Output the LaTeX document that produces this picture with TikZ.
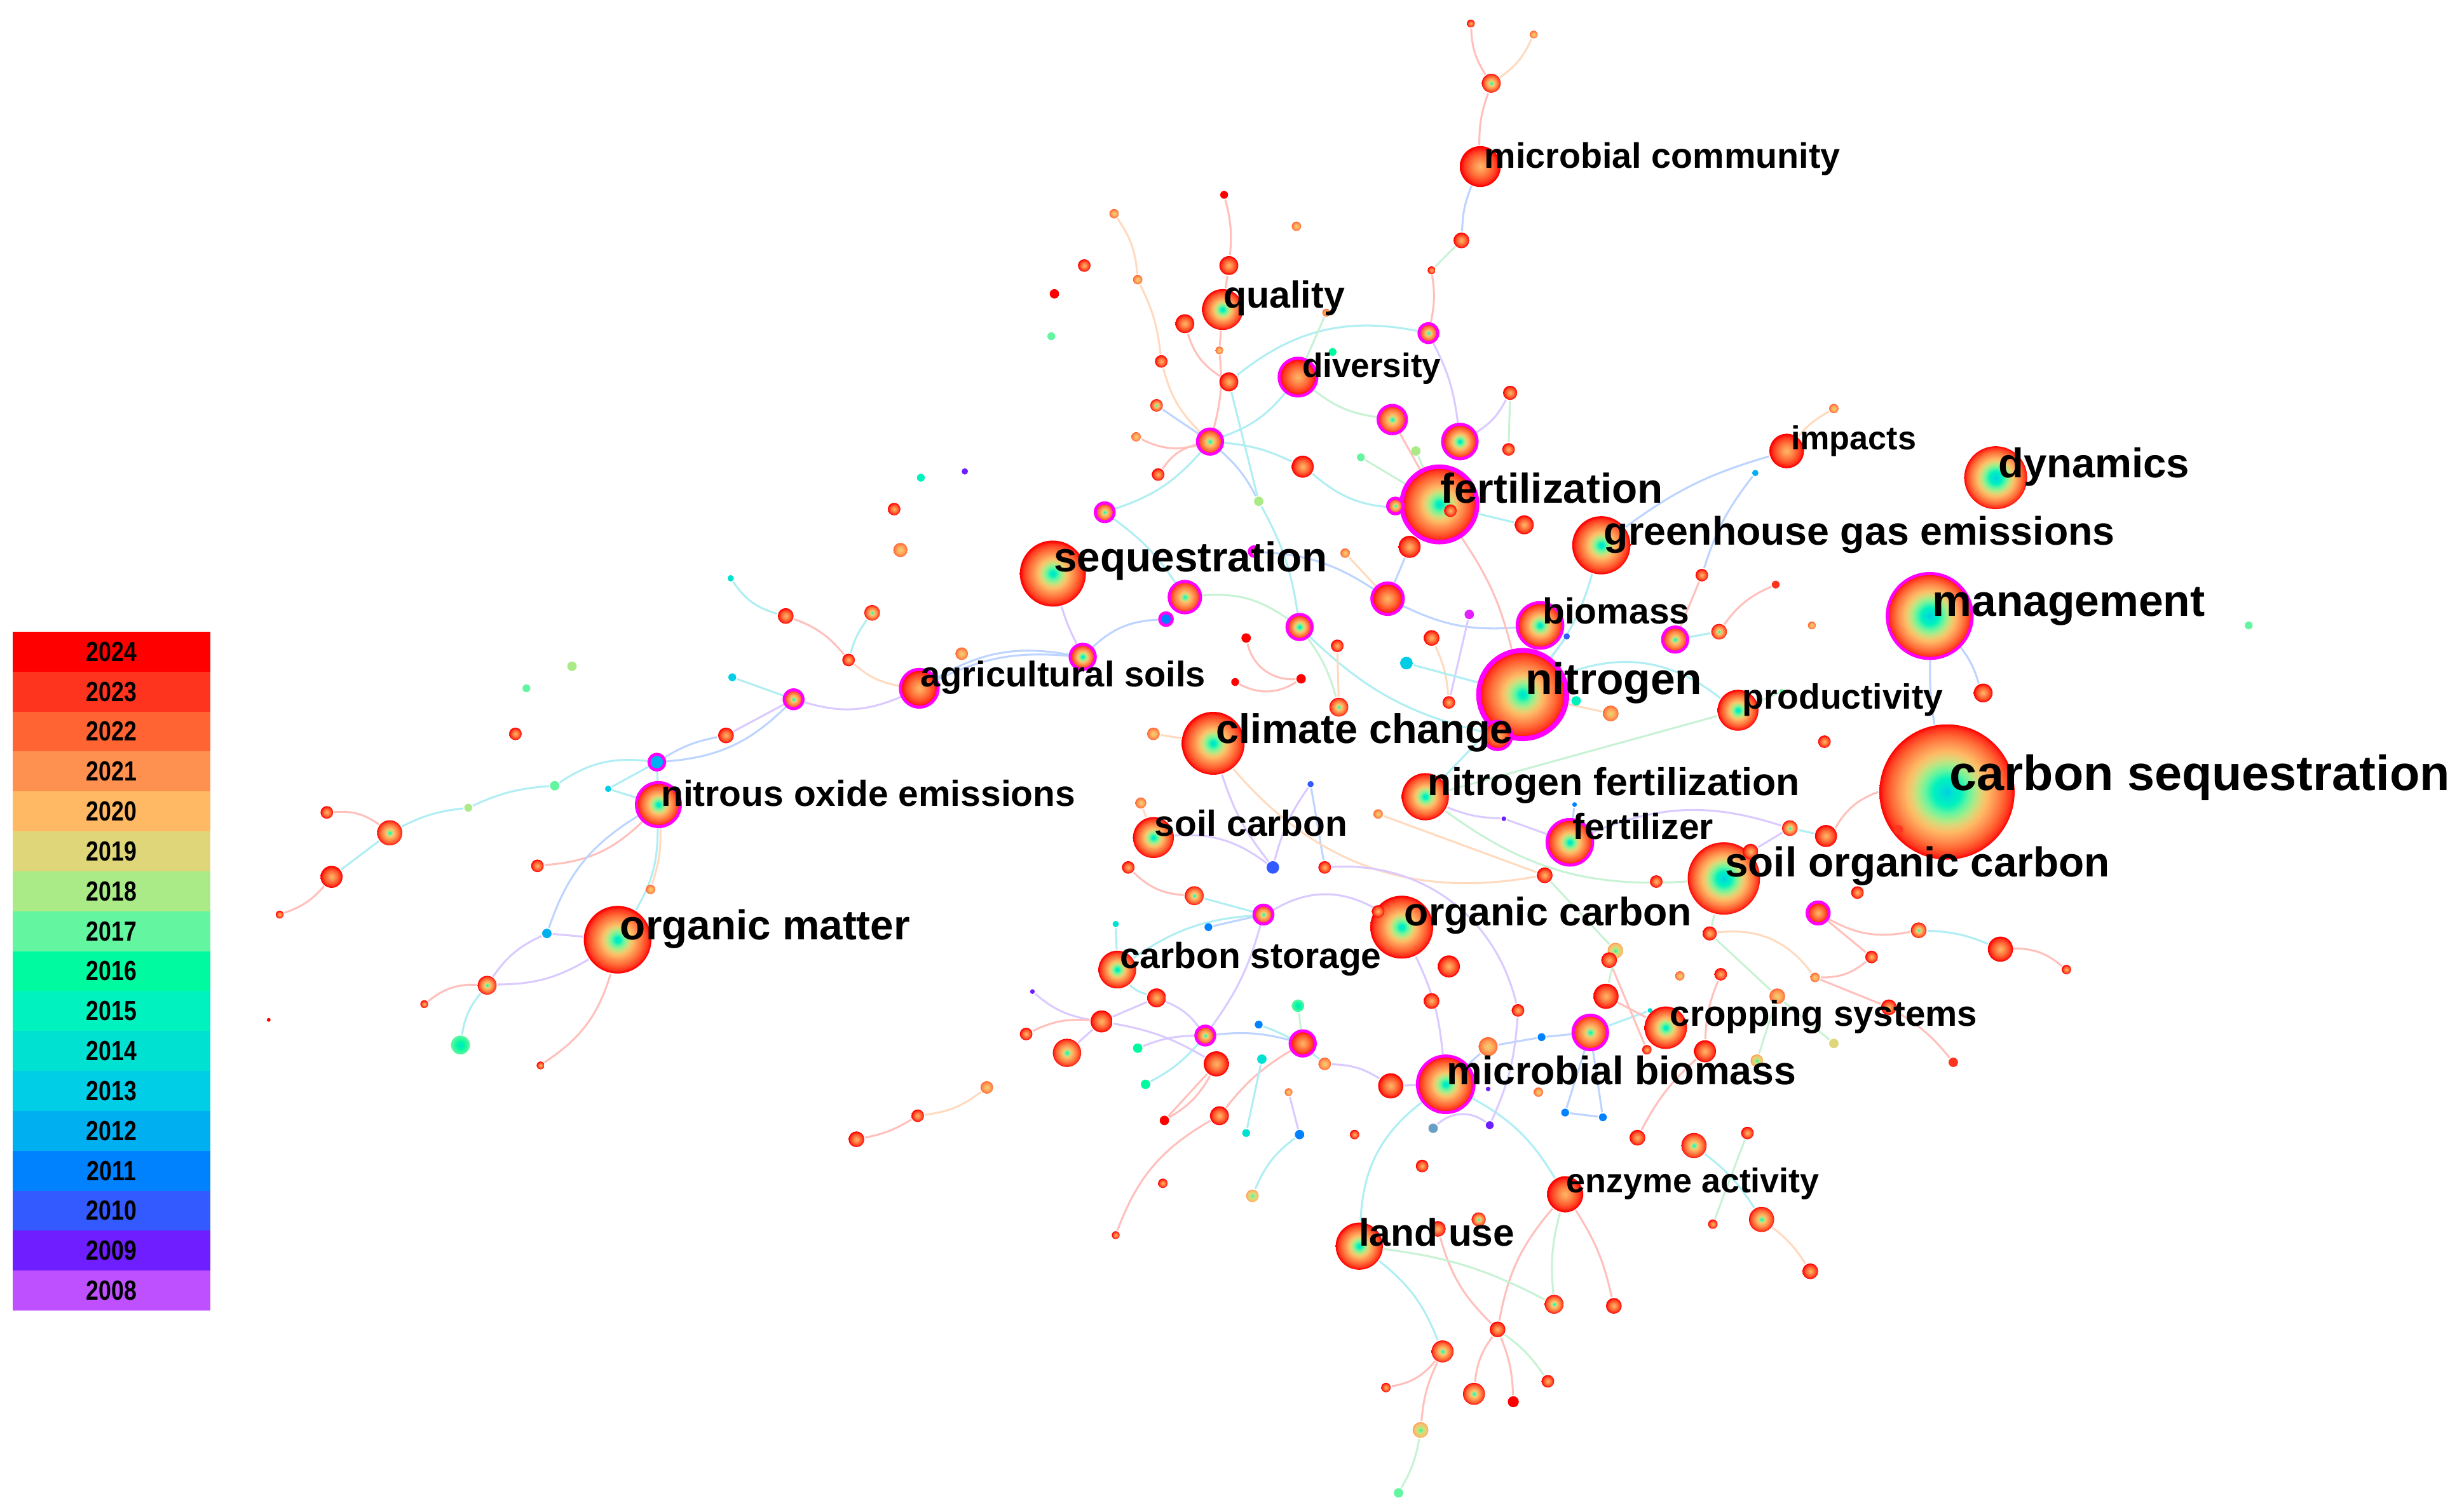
\documentclass[tikz,border=0pt]{standalone}
\usepackage{fontspec}
\setmainfont{Liberation Sans}
\usetikzlibrary{backgrounds}
\definecolor{y2024}{RGB}{255,0,0}
\definecolor{y2023}{RGB}{255,52,30}
\definecolor{y2022}{RGB}{255,100,50}
\definecolor{y2021}{RGB}{255,145,80}
\definecolor{y2020}{RGB}{255,185,100}
\definecolor{y2019}{RGB}{222,214,120}
\definecolor{y2018}{RGB}{170,235,135}
\definecolor{y2017}{RGB}{100,245,160}
\definecolor{y2016}{RGB}{0,250,160}
\definecolor{y2015}{RGB}{0,242,190}
\definecolor{y2014}{RGB}{0,225,210}
\definecolor{y2013}{RGB}{0,205,230}
\definecolor{y2012}{RGB}{0,175,240}
\definecolor{y2011}{RGB}{0,130,255}
\definecolor{y2010}{RGB}{50,90,255}
\definecolor{y2009}{RGB}{110,30,255}
\definecolor{y2008}{RGB}{190,80,255}
\definecolor{rimc}{RGB}{255,0,255}
\definecolor{ecyan}{RGB}{175,238,243}
\definecolor{epink}{RGB}{255,192,188}
\definecolor{elav}{RGB}{218,202,255}
\definecolor{eblue}{RGB}{188,212,255}
\definecolor{egreen}{RGB}{200,242,212}
\definecolor{eorange}{RGB}{255,218,190}
\pgfdeclareradialshading{treeL}{\pgfpoint{0bp}{0bp}}{color(0bp)=(y2013); color(2bp)=(y2014); color(5bp)=(y2015); color(8bp)=(y2017); color(10.5bp)=(y2018); color(12.5bp)=(y2019); color(15bp)=(y2020); color(18bp)=(y2021); color(21bp)=(y2022); color(23.5bp)=(y2023); color(25bp)=(y2024); color(50bp)=(y2024)}
\pgfdeclareradialshading{treeA}{\pgfpoint{0bp}{0bp}}{color(0bp)=(y2014); color(2bp)=(y2015); color(4.5bp)=(y2017); color(7bp)=(y2018); color(9bp)=(y2019); color(11.5bp)=(y2020); color(15bp)=(y2021); color(19bp)=(y2022); color(22.5bp)=(y2023); color(24.5bp)=(y2024); color(50bp)=(y2024)}
\pgfdeclareradialshading{treeB}{\pgfpoint{0bp}{0bp}}{color(0bp)=(y2015); color(3bp)=(y2017); color(6bp)=(y2019); color(9bp)=(y2020); color(14bp)=(y2021); color(19bp)=(y2022); color(23bp)=(y2023); color(25bp)=(y2024); color(50bp)=(y2024)}
\pgfdeclareradialshading{treeC}{\pgfpoint{0bp}{0bp}}{color(0bp)=(y2020); color(7bp)=(y2021); color(14bp)=(y2022); color(20bp)=(y2023); color(24bp)=(y2024); color(50bp)=(y2024)}
\pgfdeclareradialshading{treeD}{\pgfpoint{0bp}{0bp}}{color(0bp)=(y2019); color(8bp)=(y2020); color(18bp)=(y2021); color(25bp)=(y2022); color(50bp)=(y2022)}
\pgfdeclareradialshading{treeY}{\pgfpoint{0bp}{0bp}}{color(0bp)=(y2016); color(6bp)=(y2018); color(14bp)=(y2019); color(22bp)=(y2020); color(25bp)=(y2021); color(50bp)=(y2021)}
\pgfdeclareradialshading{treeG}{\pgfpoint{0bp}{0bp}}{color(0bp)=(y2014); color(10bp)=(y2016); color(25bp)=(y2017); color(50bp)=(y2017)}
\tikzset{
  tl/.style={circle, inner sep=0pt, minimum size=#1*0.02cm, shade, shading=treeL},
  ta/.style={circle, inner sep=0pt, minimum size=#1*0.02cm, shade, shading=treeA},
  tb/.style={circle, inner sep=0pt, minimum size=#1*0.02cm, shade, shading=treeB},
  tc/.style={circle, inner sep=0pt, minimum size=#1*0.02cm, shade, shading=treeC},
  td/.style={circle, inner sep=0pt, minimum size=#1*0.02cm, shade, shading=treeD},
  ty/.style={circle, inner sep=0pt, minimum size=#1*0.02cm, shade, shading=treeY},
  tg/.style={circle, inner sep=0pt, minimum size=#1*0.02cm, shade, shading=treeG},
  sdot/.style={circle, inner sep=0pt, minimum size=#1*0.02cm},
  rim/.style={draw=rimc, line width=0.55pt},
  lbl/.style={anchor=base west, inner sep=0pt, text=black, font=\fontsize{#1pt}{#1pt}\selectfont\bfseries},
  legbox/.style={rectangle, inner sep=0pt, minimum width=1.26cm, minimum height=0.2541cm, font=\fontsize{5pt}{5pt}\selectfont\bfseries},
  ed/.style={line width=0.35pt},
  ec/.style={ed, draw=ecyan},
  ep/.style={ed, draw=epink},
  el/.style={ed, draw=elav},
  eb/.style={ed, draw=eblue},
  eg/.style={ed, draw=egreen},
  eo/.style={ed, draw=eorange}
}
\begin{document}
\begin{tikzpicture}[x=0.01cm,y=-0.01cm]
\useasboundingbox (0,0) rectangle (1568,962);
% legend
\foreach \yr [count=\i from 0] in {2024,2023,...,2008}{
  \node[legbox, fill=y\yr] (leg\yr) at (71,{402+25.41*(\i+0.5)}) {\scalebox{0.82}[1]{\yr}};
}
% main keyword nodes
\node[tl=43] (cs) at (1239,504) {};
\node[tl=27, rim] (mg) at (1228,392) {};
\node[ta=28, rim, line width=0.9pt] (ni) at (969,442) {};
\node[ta=24, rim, line width=0.8pt] (fe) at (916,321) {};
\node[ta=21] (se) at (670,365) {};
\node[tl=20] (dy) at (1270,304) {};
\node[ta=18.5] (gh) at (1019,347) {};
\node[ta=21.5] (om) at (393,598) {};
\node[ta=20] (cc) at (772,473) {};
\node[tl=23] (soc) at (1097,559) {};
\node[ta=20] (oc) at (892,590) {};
\node[ta=18, rim] (mb) at (920,690) {};
\node[tc=13] (mc) at (942,106) {};
\node[ta=13] (qu) at (778,197) {};
\node[tc=12, rim] (dv) at (826,240) {};
\node[tc=11] (im) at (1137,287) {};
\node[ta=14.5, rim] (bi) at (980,398) {};
\node[ta=13] (pr) at (1106,452) {};
\node[tc=12, rim] (as) at (585,438) {};
\node[ta=14, rim] (no) at (419,512) {};
\node[ta=15] (nf) at (907,507) {};
\node[ta=13] (sc) at (734,533) {};
\node[ta=14.5, rim] (fz) at (999,536) {};
\node[ta=12] (cst) at (711,617) {};
\node[ta=13.5] (cr) at (1060,654) {};
\node[tc=11.5] (ea) at (996,760) {};
\node[ta=15] (lu) at (865,793) {};
% small nodes: top
\node[tc=2.5] (n1) at (936,15) {};
\node[td=2.5] (n2) at (976,22) {};
\node[tb=6] (n3) at (949,53) {};
\node[tc=5] (n4) at (930,153) {};
\node[tc=2.5] (n5) at (911,172) {};
\node[tb=6, rim] (n6) at (909,212) {};
\node[sdot=2.5, fill=y2024] (n7) at (779,124) {};
\node[td=3] (n8) at (709,136) {};
\node[td=3] (n9) at (825,144) {};
\node[tc=4] (n10) at (690,169) {};
\node[tc=6] (n11) at (782,169) {};
\node[sdot=3, fill=y2024] (n12) at (671,187) {};
\node[td=3] (n13) at (724,178) {};
\node[tc=6] (n14) at (754,206) {};
\node[sdot=2.5, fill=y2017] (n15) at (669,214) {};
\node[td=2.5] (n16) at (844,199) {};
\node[td=2.5] (n17) at (776,223) {};
\node[tc=4] (n18) at (739,230) {};
\node[tc=6] (n19) at (782,243) {};
\node[sdot=2.5, fill=y2016] (n20) at (848,224) {};
\node[tb=4] (n21) at (736,258) {};
\node[tc=4.5] (n22) at (961,250) {};
\node[tb=9, rim] (n23) at (886,267) {};
\node[tb=8, rim] (n24) at (770,281) {};
\node[td=3] (n25) at (723,278) {};
\node[ta=11, rim] (n26) at (929,281) {};
\node[tc=4] (n27) at (960,286) {};
\node[sdot=2.5, fill=y2017] (n28) at (866,291) {};
\node[sdot=3, fill=y2018] (n29) at (901,287) {};
\node[tc=7] (n30) at (829,297) {};
\node[tc=4] (n31) at (737,302) {};
\node[sdot=3, fill=y2018] (n32) at (801,319) {};
\node[tb=6, rim] (n33) at (703,326) {};
\node[tb=5, rim] (n34) at (888,322) {};
\node[tc=4] (n35) at (923,325) {};
\node[tc=6] (n36) at (970,334) {};
\node[tc=7] (n37) at (897,348) {};
\node[td=3] (n38) at (856,352) {};
\node[tb=3, rim] (n39) at (798,351) {};
\node[tb=10, rim] (n40) at (754,380) {};
\node[tc=10, rim] (n41) at (883,381) {};
\node[sdot=4, fill=y2011, rim] (n42) at (742,394) {};
\node[ta=8, rim] (n43) at (827,399) {};
\node[sdot=3, fill=rimc!60!y2008] (n44) at (935,391) {};
\node[sdot=2, fill=y2010] (n45) at (997,405) {};
\node[tc=5] (n46) at (911,406) {};
\node[sdot=3, fill=y2024] (n47) at (793,406) {};
\node[ta=8, rim] (n48) at (689,418) {};
\node[tc=4] (n49) at (851,411) {};
\node[sdot=4, fill=y2013] (n50) at (895,422) {};
\node[sdot=3, fill=y2024] (n51) at (828,432) {};
\node[sdot=2.5, fill=y2024] (n52) at (786,434) {};
\node[tc=4] (n53) at (922,447) {};
\node[tb=6] (n54) at (852,450) {};
\node[td=5] (n55) at (1025,454) {};
\node[tc=9, rim] (n56) at (953,468) {};
\node[sdot=3, fill=y2015] (n57) at (1003,446) {};
\node[td=4] (n58) at (734,467) {};
\node[sdot=2, fill=y2010] (n59) at (834,499) {};
\node[td=3.5] (n60) at (726,511) {};
\node[td=3] (n61) at (877,518) {};
\node[sdot=1.5, fill=y2009] (n62) at (957,521) {};
\node[sdot=1.5, fill=y2011] (n63) at (1002,512) {};
\node[tc=4] (n64) at (718,552) {};
\node[sdot=4, fill=y2010] (n65) at (810,552) {};
\node[tc=4] (n66) at (843,552) {};
\node[tc=5] (n67) at (983,557) {};
\node[tc=4] (n68) at (1054,561) {};
\node[tb=6] (n69) at (760,570) {};
\node[tb=6, rim] (n70) at (804,582) {};
\node[tc=4] (n71) at (877,580) {};
% right top
\node[td=3] (n72) at (1167,260) {};
\node[sdot=2, fill=y2012] (n73) at (1117,301) {};
\node[tc=4] (n74) at (1083,366) {};
\node[sdot=2.5, fill=y2023] (n75) at (1130,372) {};
\node[tb=5] (n76) at (1094,402) {};
\node[tb=8, rim] (n77) at (1066,407) {};
\node[td=2.5] (n78) at (1153,398) {};
\node[sdot=2.5, fill=y2017] (n79) at (1431,398) {};
\node[tc=6] (n80) at (1262,441) {};
\node[sdot=1.5, fill=y2017] (n81) at (1134,440) {};
\node[tc=4] (n82) at (1161,472) {};
% left
\node[sdot=2.5, fill=y2015] (n83) at (586,304) {};
\node[sdot=2, fill=y2009] (n84) at (614,300) {};
\node[tc=4] (n85) at (569,324) {};
\node[td=4.5] (n86) at (573,350) {};
\node[sdot=2, fill=y2014] (n87) at (465,368) {};
\node[tc=5] (n88) at (500,392) {};
\node[tb=5] (n89) at (555,390) {};
\node[tc=4] (n90) at (540,420) {};
\node[td=4] (n91) at (612,416) {};
\node[sdot=2.5, fill=y2013] (n92) at (466,431) {};
\node[tb=6, rim] (n93) at (505,445) {};
\node[sdot=3, fill=y2018] (n94) at (364,424) {};
\node[sdot=2.5, fill=y2017] (n95) at (335,438) {};
\node[tc=4] (n96) at (328,467) {};
\node[tc=5] (n97) at (462,468) {};
\node[sdot=5, fill=y2012, rim] (n98) at (418,485) {};
\node[sdot=3, fill=y2017] (n99) at (353,500) {};
\node[sdot=2, fill=y2013] (n100) at (387,502) {};
\node[sdot=2.5, fill=y2018] (n101) at (298,514) {};
\node[tc=4] (n102) at (208,517) {};
\node[tb=8] (n103) at (248,530) {};
\node[tc=7] (n104) at (211,558) {};
\node[tc=4] (n105) at (342,551) {};
\node[tc=2.5] (n106) at (178,582) {};
\node[td=3] (n107) at (414,566) {};
\node[sdot=3, fill=y2012] (n108) at (348,594) {};
\node[tb=6] (n109) at (310,627) {};
\node[tc=2.5] (n110) at (270,639) {};
\node[sdot=1.2, fill=y2024] (n111) at (171,649) {};
\node[tg=6] (n112) at (293,665) {};
\node[tc=2.5] (n113) at (344,678) {};
\node[sdot=1.5, fill=y2009] (n114) at (657,631) {};
\node[tc=4] (n115) at (653,658) {};
\node[td=4] (n116) at (628,692) {};
\node[tc=4] (n117) at (584,710) {};
\node[tc=5] (n118) at (545,725) {};
% bottom centre
\node[sdot=2, fill=y2014] (n119) at (710,588) {};
\node[sdot=2.5, fill=y2011] (n120) at (769,590) {};
\node[tc=4.5] (n121) at (1088,594) {};
\node[ty=5] (n122) at (1028,605) {};
\node[tc=5] (n123) at (1024,611) {};
\node[tc=7] (n124) at (922,615) {};
\node[td=3] (n125) at (1069,621) {};
\node[tc=4] (n126) at (1095,620) {};
\node[tc=6] (n127) at (736,635) {};
\node[tc=5] (n128) at (911,637) {};
\node[tc=8] (n129) at (1022,634) {};
\node[tg=4] (n130) at (826,640) {};
\node[tc=4] (n131) at (966,643) {};
\node[sdot=1.5, fill=y2014] (n132) at (1050,643) {};
\node[sdot=2.5, fill=y2011] (n133) at (801,652) {};
\node[tb=6, rim] (n134) at (767,659) {};
\node[tc=8, rim] (n135) at (829,664) {};
\node[tc=7] (n136) at (701,650) {};
\node[tb=9] (n137) at (679,670) {};
\node[tb=11, rim] (n138) at (1012,657) {};
\node[sdot=2.5, fill=y2011] (n139) at (981,660) {};
\node[td=6] (n140) at (947,666) {};
\node[tc=3] (n141) at (1048,668) {};
\node[tc=7] (n142) at (1085,669) {};
\node[sdot=3, fill=y2016] (n143) at (724,667) {};
\node[sdot=3, fill=y2014] (n144) at (803,674) {};
\node[tc=8] (n145) at (774,677) {};
\node[td=4] (n146) at (843,677) {};
\node[tc=8] (n147) at (885,691) {};
\node[td=3] (n148) at (979,695) {};
\node[sdot=1.5, fill=y2009] (n149) at (947,693) {};
\node[td=2.5] (n150) at (820,695) {};
\node[sdot=3, fill=y2016] (n151) at (729,690) {};
\node[sdot=2.5, fill=y2011] (n152) at (996,708) {};
\node[sdot=2.5, fill=y2011] (n153) at (1020,711) {};
\node[tc=6] (n154) at (776,710) {};
\node[sdot=3, fill=y2024] (n155) at (741,713) {};
\node[sdot=3, fill=y2017!60!y2009] (n156) at (912,718) {};
\node[sdot=2.5, fill=y2009] (n157) at (948,716) {};
\node[sdot=2.5, fill=y2014] (n158) at (793,721) {};
\node[sdot=3, fill=y2011] (n159) at (827,722) {};
\node[tc=3] (n160) at (862,722) {};
\node[tc=5] (n161) at (1042,724) {};
\node[tb=8] (n162) at (1078,729) {};
\node[tc=4] (n163) at (1112,721) {};
\node[tc=4] (n164) at (905,742) {};
\node[ty=4] (n165) at (797,761) {};
\node[tc=3] (n166) at (740,753) {};
\node[tb=4.5] (n167) at (941,776) {};
\node[tc=3] (n168) at (1090,779) {};
\node[tb=8] (n169) at (1121,776) {};
\node[tc=2.5] (n170) at (710,786) {};
\node[tc=5] (n171) at (915,782) {};
\node[tc=5] (n172) at (1152,809) {};
\node[tb=6] (n173) at (989,830) {};
\node[tc=5] (n174) at (1027,831) {};
\node[tc=5] (n175) at (953,846) {};
\node[tb=7] (n176) at (918,860) {};
\node[tc=3] (n177) at (882,883) {};
\node[tb=7] (n178) at (938,887) {};
\node[sdot=3.5, fill=y2024] (n179) at (963,892) {};
\node[tc=4] (n180) at (985,879) {};
\node[ty=5] (n181) at (904,910) {};
\node[sdot=3, fill=y2017] (n182) at (890,950) {};
% right bottom
\node[tb=5] (n183) at (1139,527) {};
\node[tc=7] (n184) at (1162,532) {};
\node[tc=5] (n185) at (1114,542) {};
\node[sdot=3, fill=y2023] (n186) at (1208,528) {};
\node[tc=4] (n187) at (1182,568) {};
\node[tc=7, rim] (n188) at (1157,581) {};
\node[tb=5] (n189) at (1221,592) {};
\node[tc=8] (n190) at (1273,604) {};
\node[tc=3] (n191) at (1315,617) {};
\node[tc=4] (n192) at (1191,609) {};
\node[td=3] (n193) at (1155,622) {};
\node[td=5] (n194) at (1131,634) {};
\node[tc=5] (n195) at (1202,641) {};
\node[sdot=3, fill=y2019] (n196) at (1167,664) {};
\node[ty=4] (n197) at (1118,675) {};
\node[sdot=3, fill=y2023] (n198) at (1243,676) {};
% connectors
\begin{scope}[on background layer]
\fill[white] (0,0) rectangle (1568,962);
\draw[ep] (n1) to[bend right=15] (n3);
\draw[eo] (n2) to[bend left=15] (n3);
\draw[ep] (n3) to[bend right=10] (mc);
\draw[eb] (mc) to[bend right=10] (n4);
\draw[eg] (n4) to (n5);
\draw[ep] (n5) to[bend left=10] (n6);
\draw[el] (n6) to[bend left=10] (n26);
\draw[ec] (n19) to[bend left=25] (n6);
\draw[ep] (n7) to[bend left=10] (n11);
\draw[ep] (n11) to (qu);
\draw[ep] (qu) to (n17);
\draw[ep] (n17) to[bend left=10] (n24);
\draw[eo] (n8) to[bend left=15] (n13);
\draw[eo] (n13) to[bend left=10] (n18);
\draw[eo] (n18) to[bend right=15] (n24);
\draw[ep] (n14) to[bend right=20] (n19);
\draw[eb] (n21) to (n24);
\draw[ep] (n25) to[bend right=20] (n24);
\draw[ep] (n31) to[bend left=20] (n24);
\draw[ec] (n24) to[bend left=15] (n33);
\draw[ec] (n24) to[bend left=10] (n30);
\draw[ec] (n24) to[bend right=15] (dv);
\draw[eb] (n24) to[bend left=10] (n32);
\draw[ec] (n30) to[bend right=20] (fe);
\draw[eg] (dv) to[bend right=15] (n23);
\draw[eg] (n16) to (dv);
\draw[ep] (n23) to (fe);
\draw[el] (n26) to[bend right=15] (n22);
\draw[eg] (n22) to (n27);
\draw[eg] (n28) to (fe);
\draw[eg] (n29) to (fe);
\draw[ec] (n19) to (n32);
\draw[ec] (n33) to[bend left=10] (n40);
\draw[ec] (n32) to[bend left=10] (n43);
\draw[eg] (n40) to[bend left=20] (n43);
\draw[el] (se) to[bend right=5] (n48);
\draw[eb] (n42) to[bend right=20] (n48);
\draw[eb] (n48) to[bend right=20] (as);
\draw[eb] (n39) to[bend left=15] (n41);
\draw[eo] (n41) to (n38);
\draw[eb] (n41) to (n37);
\draw[eb] (n41) to[bend right=15] (bi);
\draw[eg] (n43) to[bend left=10] (n54);
\draw[ec] (n43) to[bend right=15] (n56);
\draw[eo] (n49) to (n54);
\draw[ep] (n47) to[bend right=40] (n51);
\draw[ep] (n52) to[bend right=30] (n51);
\draw[eo] (n46) to[bend left=10] (n53);
\draw[ep] (fe) to[bend left=10] (ni);
\draw[el] (n44) to (n53);
\draw[eb] (bi) to (ni);
\draw[eb] (n45) to (ni);
\draw[ec] (n50) to (ni);
\draw[ec] (gh) to[bend left=10] (ni);
\draw[ep] (n37) to (fe);
\draw[ec] (n36) to (fe);
\draw[ec] (n34) to (fe);
\draw[eo] (cc) to (n58);
\draw[el] (cc) to[bend right=10] (n65);
\draw[eb] (n59) to (n66);
\draw[el] (n59) to[bend right=10] (n65);
\draw[eo] (cc) to[bend right=30] (n67);
\draw[el] (nf) to[bend right=10] (n62);
\draw[el] (n62) to (fz);
\draw[eb] (n63) to (fz);
\draw[ec] (ni) to (nf);
\draw[ec] (ni) to (n57);
\draw[eo] (ni) to (n55);
\draw[eo] (n60) to (sc);
\draw[el] (sc) to[bend left=20] (n65);
\draw[el] (n66) to[bend left=40] (n131);
\draw[ep] (n64) to[bend right=20] (n69);
\draw[ec] (n69) to (n70);
\draw[el] (n70) to[bend left=30] (oc);
\draw[ec] (n70) to[bend right=15] (cst);
\draw[ec] (n119) to (cst);
\draw[eb] (n120) to (n70);
\draw[el] (n70) to[bend left=10] (n134);
\draw[eg] (n67) to (n122);
\draw[eo] (n61) to (n67);
% right top
\draw[eb] (gh) to[bend left=10] (im);
\draw[eb] (n73) to[bend right=10] (n74);
\draw[ep] (n74) to (n77);
\draw[eo] (im) to[bend left=10] (n72);
\draw[ep] (n75) to[bend right=15] (n76);
\draw[ec] (n76) to (n77);
\draw[eb] (mg) to[bend right=5] (cs);
\draw[eb] (mg) to[bend left=10] (n80);
\draw[ec] (pr) to[bend right=30] (ni);
\draw[eg] (pr) to (nf);
\draw[eg] (n81) to (pr);
% right bottom
\draw[ep] (cs) to[bend right=20] (n184);
\draw[ec] (n184) to (n183);
\draw[el] (fz) to[bend left=20] (n183);
\draw[el] (n183) to (n185);
\draw[eg] (soc) to[bend left=20] (nf);
\draw[ep] (n188) to[bend right=20] (n189);
\draw[ec] (n189) to[bend left=10] (n190);
\draw[ep] (n190) to[bend left=20] (n191);
\draw[ep] (n188) to (n192);
\draw[ep] (n192) to[bend left=20] (n193);
\draw[eo] (n121) to[bend left=30] (n193);
\draw[ep] (n193) to (n195);
\draw[ep] (n195) to[bend left=10] (n198);
\draw[eg] (soc) to (n121);
\draw[ep] (n126) to[bend right=10] (n142);
\draw[eg] (n121) to (n194);
\draw[eg] (n194) to (n197);
\draw[eg] (n196) to (n194);
% left
\draw[ec] (n87) to[bend right=20] (n88);
\draw[ep] (n88) to[bend left=15] (n90);
\draw[ec] (n89) to[bend right=10] (n90);
\draw[eo] (n90) to[bend right=15] (as);
\draw[el] (as) to[bend left=20] (n93);
\draw[ec] (n93) to (n92);
\draw[el] (n93) to (n97);
\draw[eb] (n93) to[bend left=20] (n98);
\draw[eb] (n97) to[bend right=10] (n98);
\draw[ec] (n98) to[bend right=20] (n99);
\draw[ec] (n99) to[bend right=10] (n101);
\draw[ec] (n101) to[bend right=10] (n103);
\draw[ep] (n102) to[bend left=20] (n103);
\draw[ec] (n103) to (n104);
\draw[ep] (n104) to[bend left=15] (n106);
\draw[ec] (n100) to (n98);
\draw[ec] (n100) to (no);
\draw[ec] (n98) to (no);
\draw[ep] (no) to[bend left=20] (n105);
\draw[eb] (no) to[bend right=20] (n108);
\draw[el] (n108) to (om);
\draw[ec] (no) to[bend left=15] (om);
\draw[eo] (no) to[bend left=10] (n107);
\draw[el] (om) to[bend left=15] (n109);
\draw[el] (n108) to[bend right=15] (n109);
\draw[ep] (n110) to[bend left=20] (n109);
\draw[ec] (n109) to[bend right=15] (n112);
\draw[ep] (om) to[bend left=20] (n113);
\draw[eb] (as) to[bend left=15] (n48);
% bottom
\draw[ec] (cst) to[bend right=15] (n127);
\draw[el] (n127) to (n136);
\draw[el] (n127) to[bend left=15] (n134);
\draw[el] (n114) to[bend right=15] (n136);
\draw[ep] (n115) to[bend left=15] (n136);
\draw[el] (n137) to (n136);
\draw[eb] (n134) to[bend left=10] (n135);
\draw[el] (n143) to[bend left=10] (n134);
\draw[ep] (n135) to[bend right=10] (n154);
\draw[ec] (n133) to[bend left=10] (n146);
\draw[eg] (n130) to (n135);
\draw[el] (n146) to[bend left=15] (n147);
\draw[ec] (n144) to (n158);
\draw[ec] (n151) to[bend right=10] (n134);
\draw[ep] (n155) to[bend right=15] (n145);
\draw[ec] (n159) to[bend right=15] (n165);
\draw[el] (n150) to (n159);
\draw[ep] (n154) to[bend right=20] (n170);
\draw[el] (n156) to[bend left=40] (n157);
\draw[ec] (mb) to[bend right=25] (lu);
\draw[ec] (mb) to[bend left=15] (ea);
\draw[eb] (mb) to (n140);
\draw[eb] (n140) to (n139);
\draw[eb] (n139) to (n138);
\draw[eb] (n138) to (n152);
\draw[eb] (n138) to (n153);
\draw[eb] (n152) to (n153);
\draw[el] (oc) to[bend left=10] (mb);
\draw[el] (n131) to[bend left=10] (n157);
\draw[ec] (n138) to (n132);
\draw[ec] (n132) to (cr);
\draw[ep] (n123) to (n141);
\draw[ep] (cr) to (n129);
\draw[eg] (n122) to (n129);
\draw[ep] (n142) to[bend right=10] (n161);
\draw[ec] (n162) to[bend left=10] (n169);
\draw[eg] (n163) to (n168);
\draw[ep] (ea) to[bend right=15] (n175);
\draw[ep] (ea) to[bend left=10] (n174);
\draw[eg] (ea) to[bend right=10] (n173);
\draw[ec] (lu) to[bend left=15] (n176);
\draw[ep] (n176) to[bend left=20] (n177);
\draw[ep] (n176) to[bend right=10] (n181);
\draw[eg] (n181) to[bend left=10] (n182);
\draw[ep] (n175) to[bend right=15] (n178);
\draw[ep] (n175) to[bend left=10] (n179);
\draw[eg] (n175) to[bend left=10] (n180);
\draw[ep] (n171) to[bend right=15] (n175);
\draw[eo] (n169) to[bend left=10] (n172);
\draw[eg] (lu) to[bend left=10] (n173);
\draw[eo] (n116) to[bend left=15] (n117);
\draw[ep] (n117) to[bend left=10] (n118);
\draw[el] (n145) to[bend right=10] (n136);
\draw[el] (n147) to (mb);
\draw[ep] (n145) to (n155);
\end{scope}
% labels
\node[lbl=6.4] (Lmc) at (944,107) {microbial community};
\node[lbl=6.8] (Lqu) at (778,196) {quality};
\node[lbl=6.1] (Ldv) at (828,240) {diversity};
\node[lbl=6.0] (Lim) at (1139,286) {impacts};
\node[lbl=7.5] (Ldy) at (1271,304) {dynamics};
\node[lbl=7.55] (Lfe) at (916,320) {fertilization};
\node[lbl=7.2] (Lgh) at (1020,347) {greenhouse gas emissions};
\node[lbl=7.55] (Lse) at (670,364) {sequestration};
\node[lbl=8.0] (Lmg) at (1229,392) {management};
\node[lbl=6.55] (Lbi) at (981,397) {biomass};
\node[lbl=6.45] (Las) at (585,437) {agricultural soils};
\node[lbl=8.0] (Lni) at (970,442) {nitrogen};
\node[lbl=6.35] (Lpr) at (1108,451) {productivity};
\node[lbl=7.45] (Lcc) at (773,473) {climate change};
\node[lbl=8.9] (Lcs) at (1240,503) {carbon sequestration};
\node[lbl=7.0] (Lnf) at (908,506) {nitrogen fertilization};
\node[lbl=6.55] (Lno) at (420,513) {nitrous oxide emissions};
\node[lbl=6.55] (Lsc) at (734,532) {soil carbon};
\node[lbl=6.55] (Lfz) at (1000,534) {fertilizer};
\node[lbl=7.55] (Lsoc) at (1097,558) {soil organic carbon};
\node[lbl=7.2] (Loc) at (893,589) {organic carbon};
\node[lbl=7.55] (Lom) at (394,598) {organic matter};
\node[lbl=6.55] (Lcst) at (712,616) {carbon storage};
\node[lbl=6.5] (Lcr) at (1062,653) {cropping systems};
\node[lbl=7.2] (Lmb) at (920,690) {microbial biomass};
\node[lbl=6.2] (Lea) at (996,759) {enzyme activity};
\node[lbl=6.95] (Llu) at (864,793) {land use};
\end{tikzpicture}
\end{document}
